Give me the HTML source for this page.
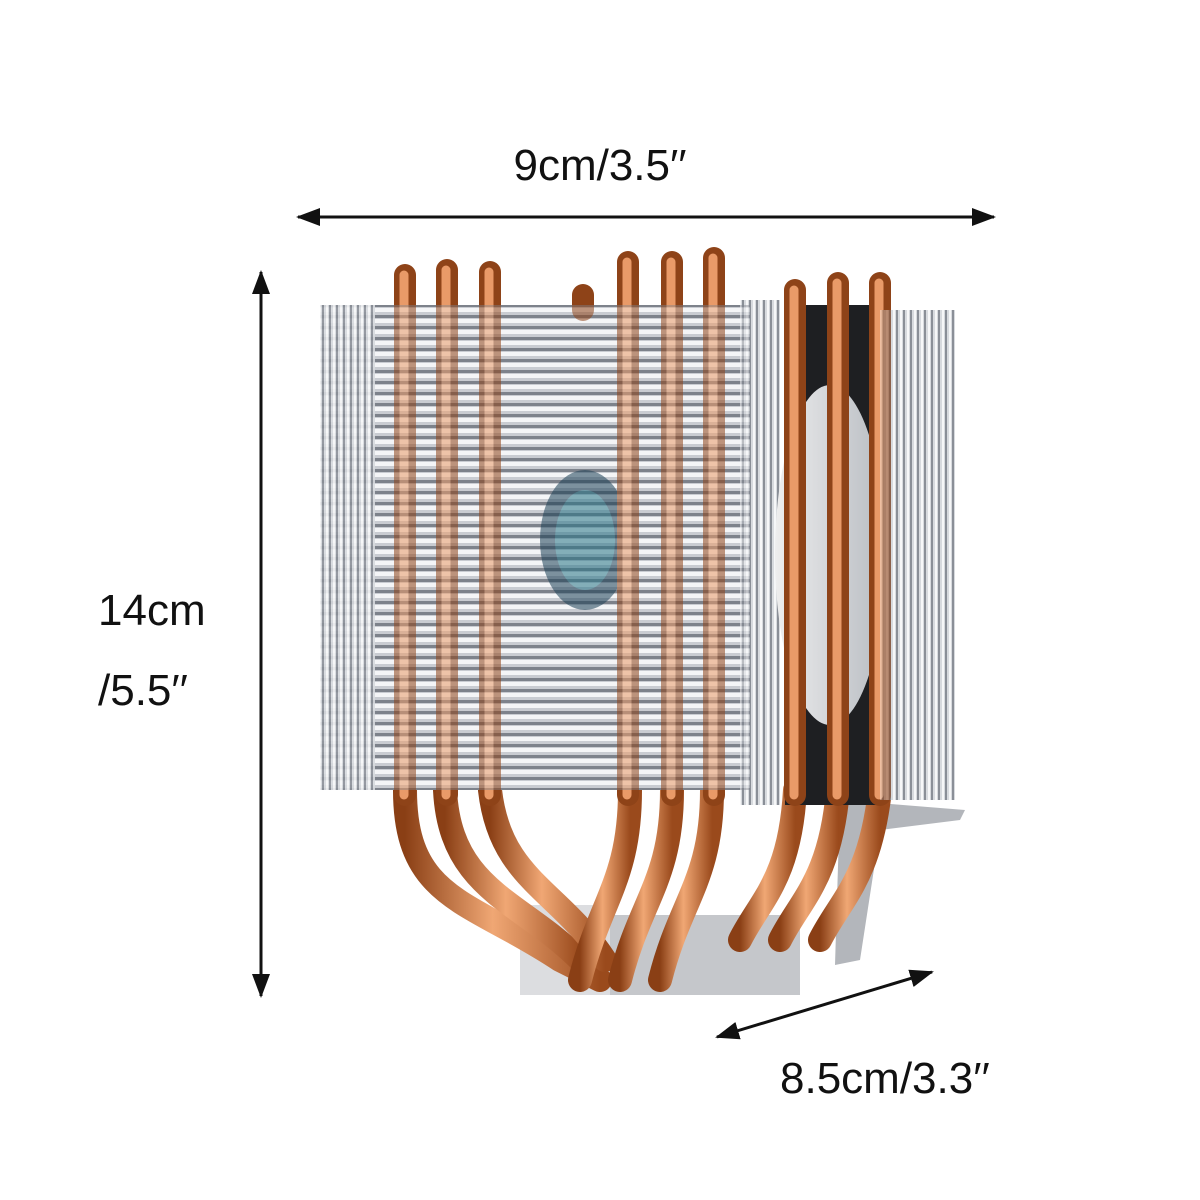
<!DOCTYPE html>
<html><head><meta charset="utf-8"><style>
html,body{margin:0;padding:0;background:#fff;}
svg{display:block}
text{font-family:"Liberation Sans",sans-serif;fill:#111;}
</style></head><body>
<svg width="1200" height="1200" viewBox="0 0 1200 1200" xmlns="http://www.w3.org/2000/svg">
<defs>
<pattern id="fins" width="10" height="11" patternUnits="userSpaceOnUse">
<rect width="10" height="11" fill="#c9ccd2"/>
<rect y="0" width="10" height="4" fill="#f4f5f7"/>
<rect y="7" width="10" height="3" fill="#7d828b"/>
</pattern>
<pattern id="vfins" width="7" height="10" patternUnits="userSpaceOnUse">
<rect width="7" height="10" fill="#d7dade"/>
<rect x="0" width="2" height="10" fill="#8a8f97"/>
<rect x="4" width="2" height="10" fill="#f6f7f8"/>
</pattern>
<linearGradient id="cu" x1="0" x2="1">
<stop offset="0" stop-color="#8a3f15"/><stop offset="0.45" stop-color="#f0a774"/><stop offset="1" stop-color="#9a4a1c"/>
</linearGradient>
<linearGradient id="fanbg" x1="0" x2="1"><stop offset="0" stop-color="#eeeeee"/><stop offset="1" stop-color="#b8bcc2"/></linearGradient>
<marker id="ah" markerWidth="24" markerHeight="18" refX="22" refY="9" orient="auto-start-reverse" markerUnits="userSpaceOnUse"><path d="M0,0 L24,9 L0,18 Z" fill="#111"/></marker>
</defs>

<text x="600" y="180" font-size="44" text-anchor="middle">9cm/3.5′′</text>
<line x1="298" y1="217" x2="994" y2="217" stroke="#111" stroke-width="3" marker-start="url(#ah)" marker-end="url(#ah)"/>
<line x1="261" y1="272" x2="261" y2="996" stroke="#111" stroke-width="3" marker-start="url(#ah)" marker-end="url(#ah)"/>
<text x="98" y="625" font-size="44">14cm</text>
<text x="98" y="705" font-size="44">/5.5′′</text>
<line x1="717" y1="1037" x2="932" y2="972" stroke="#111" stroke-width="3" marker-start="url(#ah)" marker-end="url(#ah)"/>
<text x="780" y="1093" font-size="44">8.5cm/3.3′′</text>

<rect x="610" y="915" width="190" height="80" fill="#c5c7cb"/>
<rect x="520" y="905" width="90" height="90" fill="#dcdde0"/>
<path d="M840 800 L965 810 L960 820 L880 830 L860 960 L835 965 Z" fill="#b3b6bb"/>

<g fill="none" stroke="url(#cu)" stroke-width="24" stroke-linecap="round">
<path d="M405 790 C405 900 470 900 560 960 L600 980"/>
<path d="M445 790 C450 890 520 900 580 960"/>
<path d="M490 790 C500 880 560 890 605 960"/>
<path d="M630 790 C630 880 600 900 580 980"/>
<path d="M672 790 C672 880 640 900 620 980"/>
<path d="M712 790 C712 880 680 900 660 980"/>
<path d="M795 790 C790 880 760 900 740 940"/>
<path d="M838 790 C830 880 800 900 780 940"/>
<path d="M880 790 C870 880 840 900 820 940"/>
</g>

<rect x="320" y="305" width="430" height="485" fill="url(#fins)"/>
<rect x="320" y="305" width="55" height="485" fill="url(#vfins)" opacity="0.9"/>
<rect x="740" y="300" width="40" height="505" fill="url(#vfins)"/>
<rect x="880" y="310" width="75" height="490" fill="url(#vfins)"/>
<rect x="785" y="305" width="95" height="500" fill="#1e1f22"/>
<ellipse cx="830" cy="555" rx="55" ry="170" fill="url(#fanbg)"/>
<ellipse cx="585" cy="540" rx="45" ry="70" fill="#1a3f55"/>
<ellipse cx="585" cy="540" rx="30" ry="50" fill="#2d8a9a" opacity="0.7"/>

<g stroke-linecap="round">
<g stroke="#8e4318" stroke-width="22">
<line x1="405" y1="275" x2="405" y2="795"/><line x1="447" y1="270" x2="447" y2="795"/><line x1="490" y1="272" x2="490" y2="795"/>
<line x1="628" y1="262" x2="628" y2="795"/><line x1="672" y1="262" x2="672" y2="795"/><line x1="714" y1="258" x2="714" y2="795"/>
<line x1="795" y1="290" x2="795" y2="795"/><line x1="838" y1="283" x2="838" y2="795"/><line x1="880" y1="283" x2="880" y2="795"/>
<line x1="583" y1="295" x2="583" y2="310"/>
</g>
<g stroke="#e99a68" stroke-width="9">
<line x1="404" y1="275" x2="404" y2="795"/><line x1="446" y1="270" x2="446" y2="795"/><line x1="489" y1="272" x2="489" y2="795"/>
<line x1="627" y1="262" x2="627" y2="795"/><line x1="671" y1="262" x2="671" y2="795"/><line x1="713" y1="258" x2="713" y2="795"/>
<line x1="794" y1="290" x2="794" y2="795"/><line x1="837" y1="283" x2="837" y2="795"/><line x1="879" y1="283" x2="879" y2="795"/>
</g>
</g>
<rect x="380" y="305" width="370" height="485" fill="url(#fins)" opacity="0.45"/>
<rect x="880" y="310" width="75" height="490" fill="url(#vfins)" opacity="0.4"/>
</svg>
</body></html>
